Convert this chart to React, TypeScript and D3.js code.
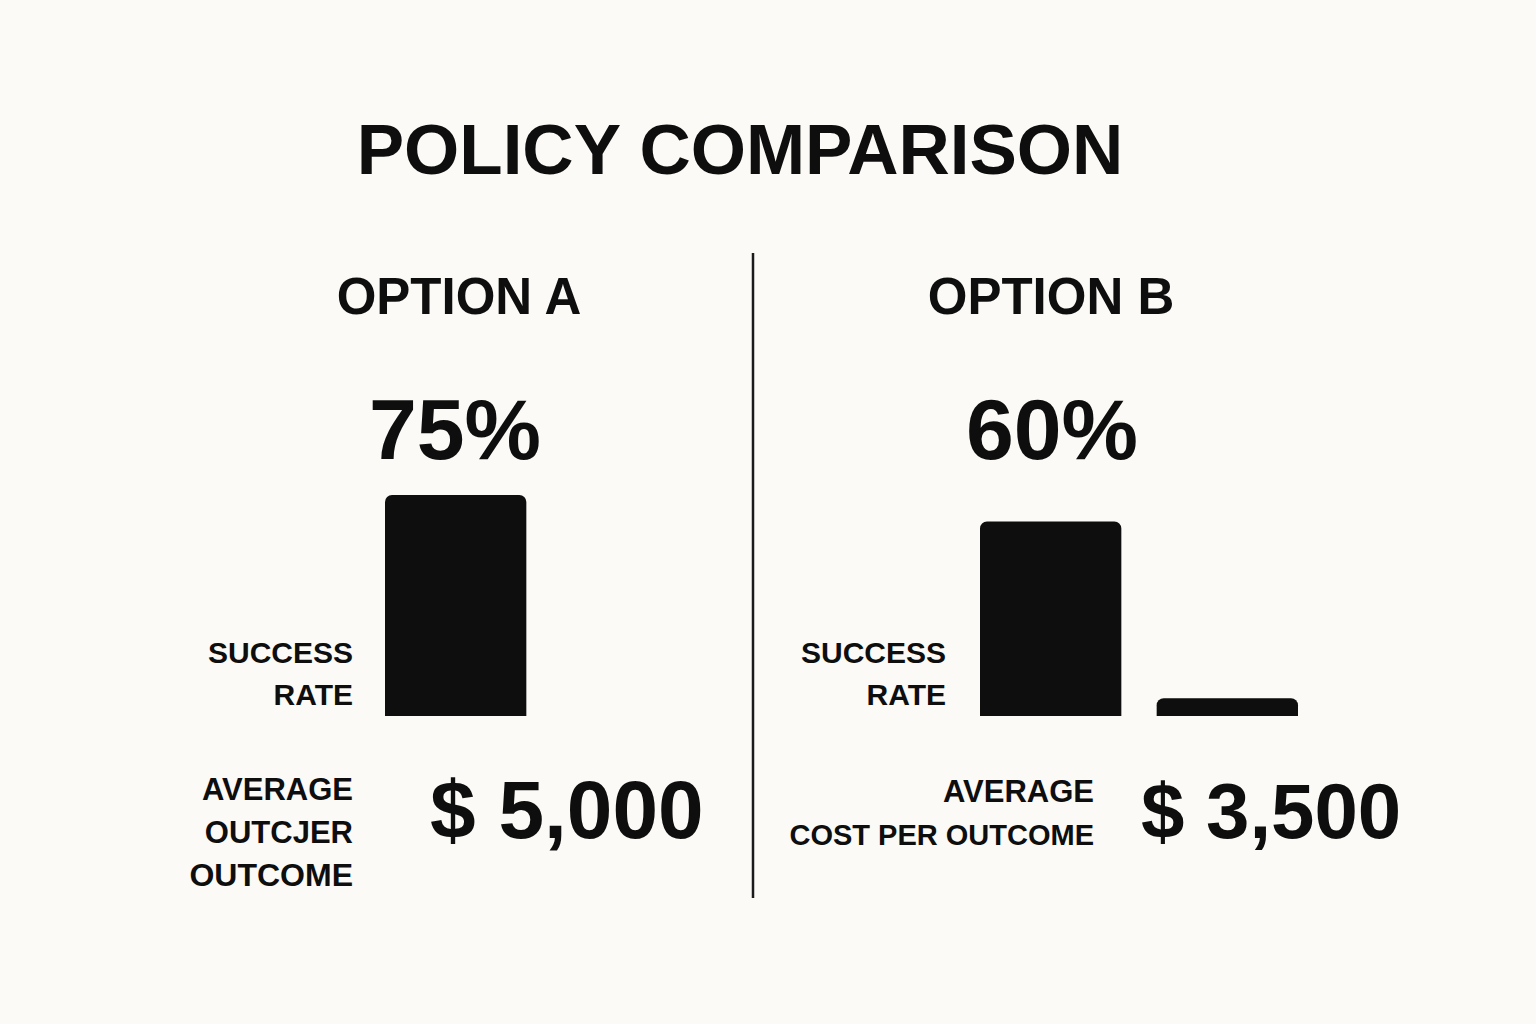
import React from "react";
import * as d3 from "d3";

const title = "POLICY COMPARISON";
const optionNames = ["OPTION A", "OPTION B"];
const successRates = [75, 60];
const averageCosts = [5000, 3500];
// bar heights, as % of the full column height
const successBarLevels = [100, 88];
const costBarLevels = [0, 8];
const successLabelLines = ["SUCCESS", "RATE"];
const costLabelLines = [
  ["AVERAGE", "OUTCJER", "OUTCOME"],
  ["AVERAGE", "COST PER OUTCOME"],
];

const W = 1536;
const H = 1024;
const BG = "#fbfaf6";
const INK = "#0e0e0e";
const FONT = "'Liberation Sans', Arial, Helvetica, sans-serif";

// per-panel layout
const panels = [
  { center: 459, numCenter: 455, barX0: 385, succLabelRight: 353, costLabelRight: 353, costValueX: 430, costLabelBase: 800 },
  { center: 1051, numCenter: 1052, barX0: 980, succLabelRight: 946, costLabelRight: 1094, costValueX: 1141, costLabelBase: 802 },
];

const y = d3.scaleLinear().domain([0, 100]).range([716, 495]);
const fmtCost = (v: number) => "$ " + d3.format(",")(v);
const fmtPct = (v: number) => d3.format(".0f")(v) + "%";

function topRoundedRect(x: number, yTop: number, w: number, h: number, r: number) {
  const rr = Math.min(r, h / 2, w / 2);
  const p = d3.path();
  p.moveTo(x, yTop + h);
  p.lineTo(x, yTop + rr);
  p.arcTo(x, yTop, x + rr, yTop, rr);
  p.lineTo(x + w - rr, yTop);
  p.arcTo(x + w, yTop, x + w, yTop + rr, rr);
  p.lineTo(x + w, yTop + h);
  p.closePath();
  return p.toString();
}

export default function App() {
  return (
    <svg width={W} height={H} style={{ display: "block", position: "absolute", left: 0, top: 0 }}>
      <rect x={0} y={0} width={W} height={H} fill={BG} />
      <text x={740} y={174} textAnchor="middle" fontFamily={FONT} fontWeight={700} fontSize={71} fill={INK}>
        {title}
      </text>
      <line x1={753} x2={753} y1={253} y2={898} stroke="#1a1a1a" strokeWidth={2.5} />
      {panels.map((p, i) => {
        const xb = d3
          .scaleBand<string>()
          .domain(["success", "cost"])
          .range([p.barX0, p.barX0 + 318])
          .paddingInner(0.2)
          .paddingOuter(0);
        const bars = [
          { key: "success", level: successBarLevels[i] },
          { key: "cost", level: costBarLevels[i] },
        ].filter((b) => b.level > 0);
        return (
          <g key={i}>
            <text x={p.center} y={314} textAnchor="middle" fontFamily={FONT} fontWeight={700} fontSize={51} fill={INK}>
              {optionNames[i]}
            </text>
            <text x={p.numCenter} y={459} textAnchor="middle" fontFamily={FONT} fontWeight={700} fontSize={86} fill={INK}>
              {fmtPct(successRates[i])}
            </text>
            {bars.map((b) => (
              <path
                key={b.key}
                d={topRoundedRect(xb(b.key)!, y(b.level), xb.bandwidth(), y(0) - y(b.level), 7)}
                fill={INK}
              />
            ))}
            {successLabelLines.map((t, j) => (
              <text key={t} x={p.succLabelRight} y={663 + j * 42} textAnchor="end" fontFamily={FONT} fontWeight={700} fontSize={30} fill={INK}>
                {t}
              </text>
            ))}
            {costLabelLines[i].map((t, j) => (
              <text
                key={t + j}
                x={p.costLabelRight}
                y={p.costLabelBase + j * 43}
                textAnchor="end"
                fontFamily={FONT}
                fontWeight={700}
                fontSize={t.length > 10 ? 29 : j === 2 ? 32 : 31}
                fill={INK}
              >
                {t}
              </text>
            ))}
            <text x={p.costValueX} y={838} textAnchor="start" fontFamily={FONT} fontWeight={700} fontSize={i === 0 ? 82 : 78} fill={INK}>
              {fmtCost(averageCosts[i])}
            </text>
          </g>
        );
      })}
    </svg>
  );
}
